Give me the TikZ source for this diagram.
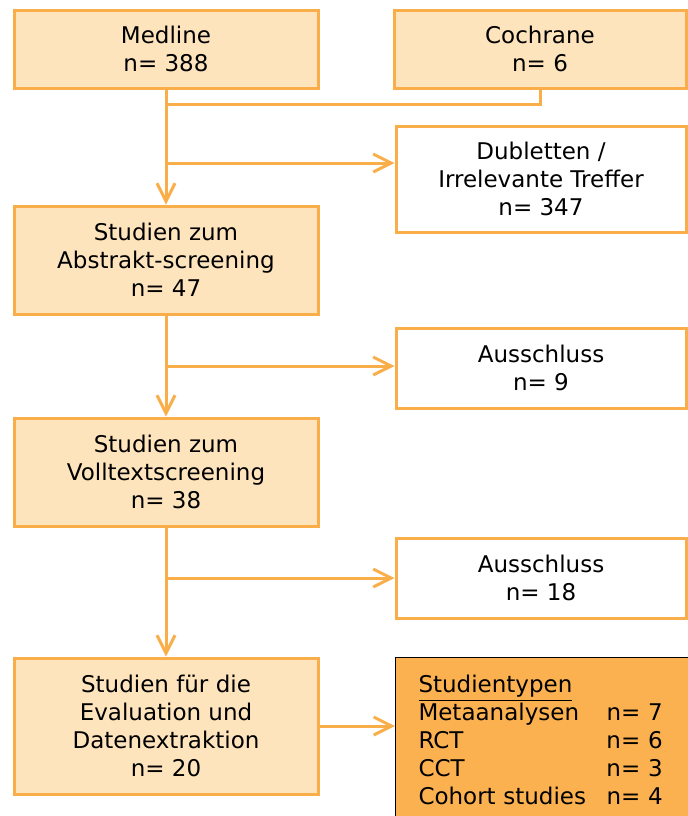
\documentclass[tikz,border=0pt]{standalone}
\usepackage{fontspec}
\setmainfont{DejaVu Sans}
\usetikzlibrary{arrows.meta}
\definecolor{boxfill}{RGB}{253,228,188}
\definecolor{boxline}{RGB}{250,174,74}
\definecolor{typfill}{RGB}{251,177,80}
\tikzset{
  flow/.style={draw=boxline, line width=1.5pt, align=center, inner sep=0pt,
    font=\fontsize{11.5}{14}\selectfont},
  studbox/.style={flow, fill=boxfill, minimum width=152pt},
  outbox/.style={flow, fill=white, minimum width=145pt},
  link/.style={draw=boxline, line width=1.5pt},
  arr/.style={link, -{Straight Barb[length=9pt,width=9pt]}}
}
\newcommand{\typline}[2]{\makebox[94pt][l]{#1}#2}

\begin{document}
\begin{tikzpicture}[x=0.5pt,y=-0.5pt]
\useasboundingbox (0,0) rectangle (688,816);
\clip (0,0) rectangle (688,816);
% sources
\node[studbox, minimum height=39pt] (Medline) at (166,49) {Medline\\n= 388};
\node[studbox, minimum width=146pt, minimum height=39pt] (Cochrane) at (540,49) {Cochrane\\n= 6};
% left column
\node[studbox, minimum height=54pt] (Abstrakt) at (166,260) {Studien zum\\Abstrakt-screening\\n= 47};
\node[studbox, minimum height=54pt] (Volltext) at (166,472) {Studien zum\\Volltextscreening\\n= 38};
\node[studbox, minimum height=68pt] (Eval) at (166,726) {Studien f\"ur die\\Evaluation und\\Datenextraktion\\n= 20};
% right column
\node[outbox, minimum height=53pt] (Dubletten) at (541,179) {Dubletten /\\Irrelevante Treffer\\n= 347};
\node[outbox, minimum height=40pt] (Aus1) at (541,368) {Ausschluss\\n= 9};
\node[outbox, minimum height=40pt] (Aus2) at (541,578) {Ausschluss\\n= 18};
% study types
\node[flow, draw=black, line width=0.5pt, fill=typfill, anchor=north west, align=left,
  inner xsep=11.5pt, inner ysep=9pt, text width=150pt] (Typen) at (395,657)
  {\underline{Studientypen}\\
   \typline{Metaanalysen}{n= 7}\\
   \typline{RCT}{n= 6}\\
   \typline{CCT}{n= 3}\\
   \typline{Cohort studies}{n= 4}};
% connectors
\coordinate (join) at (Medline.south |- 0,104);
\coordinate (b1) at (Medline.south |- 0,163);
\coordinate (b2) at (Abstrakt.south |- 0,366);
\coordinate (b3) at (Volltext.south |- 0,578);
\draw[link] (Cochrane.south) |- (join);
\draw[arr] (Medline.south) -- (Abstrakt.north);
\draw[arr] (b1) -- (b1 -| Dubletten.west);
\draw[arr] (Abstrakt.south) -- (Volltext.north);
\draw[arr] (b2) -- (b2 -| Aus1.west);
\draw[arr] (Volltext.south) -- (Eval.north);
\draw[arr] (b3) -- (b3 -| Aus2.west);
\draw[arr] (Eval.east) -- (Eval.east -| Typen.west);
\end{tikzpicture}
\end{document}
